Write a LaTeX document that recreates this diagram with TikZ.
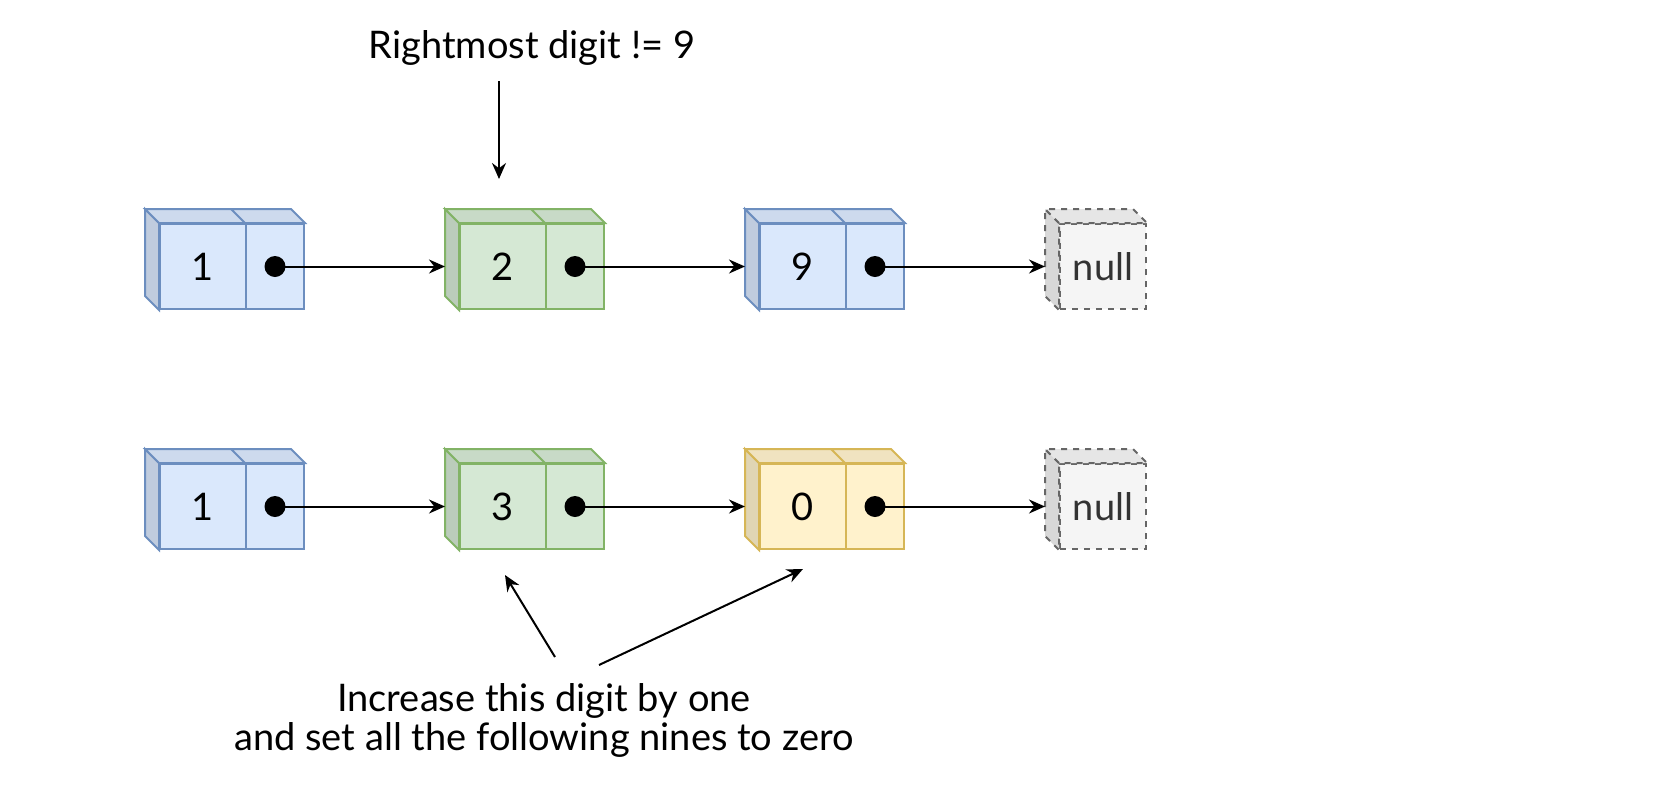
\documentclass[tikz,border=0pt]{standalone}
\usepackage{fontspec}
\setmainfont{Lato}
\usetikzlibrary{arrows.meta,calc}
\definecolor{blueF}{HTML}{DAE8FC}
\definecolor{blueS}{HTML}{6C8EBF}
\definecolor{greenF}{HTML}{D5E8D4}
\definecolor{greenS}{HTML}{82B366}
\definecolor{yellowF}{HTML}{FFF2CC}
\definecolor{yellowS}{HTML}{D6B656}
\definecolor{nullF}{HTML}{F5F5F5}
\definecolor{nullS}{HTML}{666666}
\definecolor{nullT}{HTML}{333333}
\tikzset{
  valcell/.style={draw=#1S, fill=#1F, line width=1pt, minimum width=43pt, minimum height=42.5pt, inner sep=0pt, anchor=north west, font=\fontsize{19}{20}\selectfont},
  ptrcell/.style={draw=#1S, fill=#1F, line width=1pt, minimum width=29pt, minimum height=42.5pt, inner sep=0pt, anchor=north west},
  nullcell/.style={draw=nullS, fill=nullF, dashed, line width=1pt, minimum width=43pt, minimum height=42.5pt, inner sep=0pt, anchor=north west, text=nullT, font=\fontsize{19}{20}\selectfont},
  dot/.style={circle, fill=black, minimum size=10.5pt, inner sep=0pt},
  arr/.style={-{Stealth[length=8pt,width=7pt]}, line width=1pt},
  lbl/.style={font=\fontsize{19}{19.5}\selectfont, align=center},
  face/.style={line width=1pt},
}
\newcommand\leftface[3]{%
  \filldraw[face, fill=#2!88!black, draw=#3]
    (#1.north west) -- ++(-14,-14) -- ([shift={(-14,-14)}]#1.south west) -- (#1.south west) -- cycle;
}
\newcommand\topface[3]{%
  \filldraw[face, fill=#2!94!black, draw=#3]
    (#1.north west) -- ++(-14,-14) -- ([shift={(-14,-14)}]#1.north east) -- (#1.north east) -- cycle;
}
\begin{document}
\begin{tikzpicture}[x=0.5pt,y=-0.5pt]
\useasboundingbox (0,0) rectangle (1662,788);

% ---------- row 1 ----------
\node[valcell=blue]   (a1v) at (159,223) {1};
\node[ptrcell=blue]   (a1p) at (245,223) {};
\node[valcell=green]  (a2v) at (459,223) {2};
\node[ptrcell=green]  (a2p) at (545,223) {};
\node[valcell=blue]   (a3v) at (759,223) {9};
\node[ptrcell=blue]   (a3p) at (845,223) {};
\node[nullcell]       (a4)  at (1059,223) {null};

\leftface{a1v}{blueF}{blueS}\topface{a1v}{blueF}{blueS}\topface{a1p}{blueF}{blueS}
\leftface{a2v}{greenF}{greenS}\topface{a2v}{greenF}{greenS}\topface{a2p}{greenF}{greenS}
\leftface{a3v}{blueF}{blueS}\topface{a3v}{blueF}{blueS}\topface{a3p}{blueF}{blueS}
\begin{scope}[dashed]
\leftface{a4}{nullF}{nullS}\topface{a4}{nullF}{nullS}
\end{scope}

\node[dot] (a1d) at (a1p.center) {};
\node[dot] (a2d) at (a2p.center) {};
\node[dot] (a3d) at (a3p.center) {};
\coordinate (a2in) at ([xshift=-7pt]a2v.west);
\coordinate (a3in) at ([xshift=-7pt]a3v.west);
\coordinate (a4in) at ([xshift=-7pt]a4.west);
\draw[arr] (a1d.center) -- (a2in);
\draw[arr] (a2d.center) -- (a3in);
\draw[arr] (a3d.center) -- (a4in);

% ---------- row 2 ----------
\node[valcell=blue]   (b1v) at (159,463) {1};
\node[ptrcell=blue]   (b1p) at (245,463) {};
\node[valcell=green]  (b2v) at (459,463) {3};
\node[ptrcell=green]  (b2p) at (545,463) {};
\node[valcell=yellow] (b3v) at (759,463) {0};
\node[ptrcell=yellow] (b3p) at (845,463) {};
\node[nullcell]       (b4)  at (1059,463) {null};

\leftface{b1v}{blueF}{blueS}\topface{b1v}{blueF}{blueS}\topface{b1p}{blueF}{blueS}
\leftface{b2v}{greenF}{greenS}\topface{b2v}{greenF}{greenS}\topface{b2p}{greenF}{greenS}
\leftface{b3v}{yellowF}{yellowS}\topface{b3v}{yellowF}{yellowS}\topface{b3p}{yellowF}{yellowS}
\begin{scope}[dashed]
\leftface{b4}{nullF}{nullS}\topface{b4}{nullF}{nullS}
\end{scope}

\node[dot] (b1d) at (b1p.center) {};
\node[dot] (b2d) at (b2p.center) {};
\node[dot] (b3d) at (b3p.center) {};
\coordinate (b2in) at ([xshift=-7pt]b2v.west);
\coordinate (b3in) at ([xshift=-7pt]b3v.west);
\coordinate (b4in) at ([xshift=-7pt]b4.west);
\draw[arr] (b1d.center) -- (b2in);
\draw[arr] (b2d.center) -- (b3in);
\draw[arr] (b3d.center) -- (b4in);

% ---------- labels ----------
\node[lbl] (top) at (532,48) {Rightmost digit != 9};
\coordinate (topS) at (499,81);
\coordinate (topE) at (499,179);
\draw[arr] (topS) -- (topE);

\node[lbl] (bot) at (544,720) {Increase this digit by one\\and set all the following nines to zero};
\coordinate (s1) at (555,657);
\coordinate (e1) at (505,575);
\coordinate (s2) at (599,665);
\coordinate (e2) at (803,569);
\draw[arr] (s1) -- (e1);
\draw[arr] (s2) -- (e2);
\end{tikzpicture}
\end{document}
